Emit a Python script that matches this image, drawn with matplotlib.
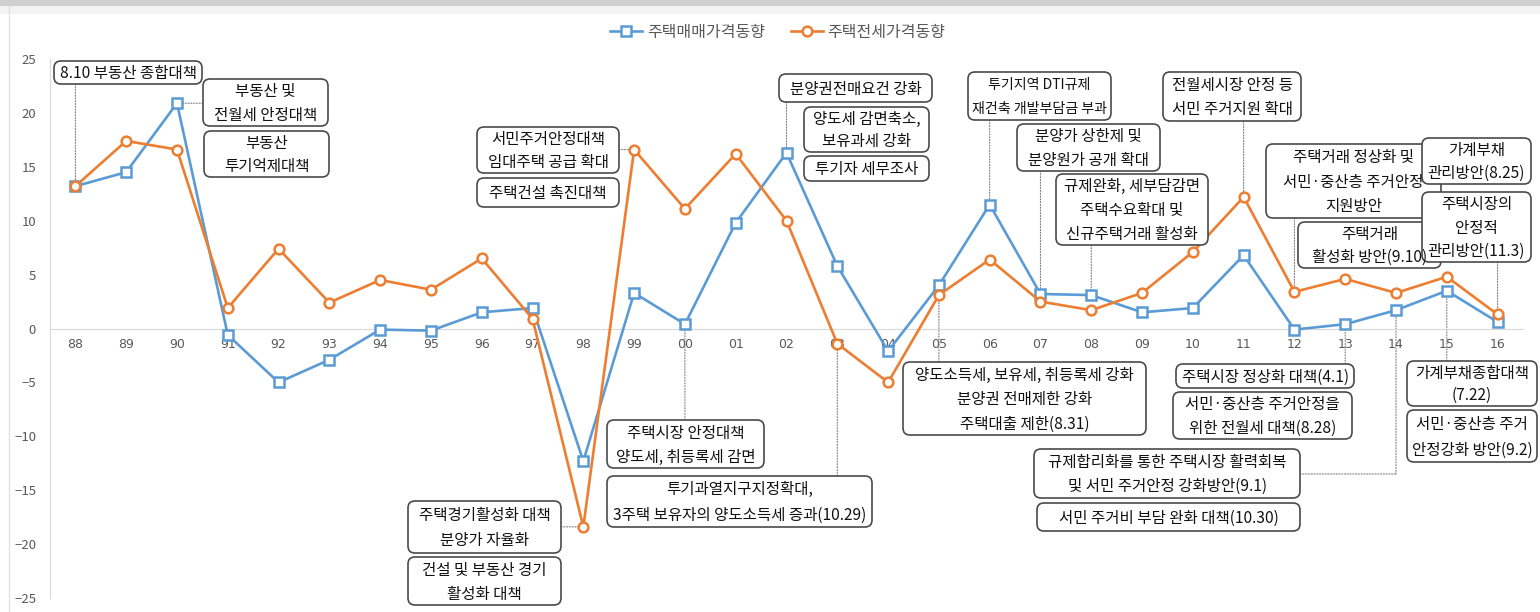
import matplotlib.pyplot as plt
import matplotlib.transforms as mtransforms
from matplotlib.patches import FancyBboxPatch, Rectangle
from matplotlib.lines import Line2D

plt.rcParams['font.family'] = ['Noto Sans CJK KR', 'DejaVu Sans']

# 연도 / 주택가격 동향 (전년 대비 %)
years = ['88', '89', '90', '91', '92', '93', '94', '95', '96', '97', '98', '99',
         '00', '01', '02', '03', '04', '05', '06', '07', '08', '09', '10', '11',
         '12', '13', '14', '15', '16']
sale = [13.2, 14.5, 20.9, -0.6, -5.0, -2.9, -0.1, -0.2, 1.5, 1.9, -12.3, 3.3,
        0.4, 9.8, 16.3, 5.8, -2.1, 4.0, 11.5, 3.2, 3.1, 1.5, 1.9, 6.8,
        -0.1, 0.4, 1.7, 3.5, 0.6]
jeonse = [13.2, 17.4, 16.6, 1.9, 7.4, 2.4, 4.5, 3.6, 6.5, 0.9, -18.4, 16.6,
          11.1, 16.2, 10.0, -1.4, -5.0, 3.1, 6.4, 2.5, 1.7, 3.3, 7.1, 12.2,
          3.4, 4.6, 3.3, 4.8, 1.3]
series_names = ['주택매매가격동향', '주택전세가격동향']

# 정책 상자: 문구, 왼쪽, 위, 오른쪽, 아래 (픽셀)
boxes = [
    ('8.10 부동산 종합대책', 54, 61, 202, 84),
    ('부동산 및\n전월세 안정대책', 203, 79, 328, 126),
    ('부동산\n투기억제대책', 204, 131, 329, 177),
    ('서민주거안정대책\n임대주택 공급 확대', 477, 127, 619, 173),
    ('주택건설 촉진대책', 477, 178, 619, 207),
    ('분양권전매요건 강화', 779, 74, 932, 102),
    ('양도세 감면축소,\n보유과세 강화', 804, 107, 929, 152),
    ('투기자 세무조사', 804, 156, 929, 181),
    ('투기지역 DTI규제\n재건축 개발부담금 부과', 968, 72, 1111, 120),
    ('분양가 상한제 및\n분양원가 공개 확대', 1017, 124, 1160, 171),
    ('규제완화, 세부담감면\n주택수요확대 및\n신규주택거래 활성화', 1056, 174, 1208, 245),
    ('전월세시장 안정 등\n서민 주거지원 확대', 1163, 72, 1301, 121),
    ('주택거래 정상화 및\n서민·중산층 주거안정\n지원방안', 1266, 144, 1441, 218),
    ('주택거래\n활성화 방안(9.10)', 1298, 222, 1441, 268),
    ('가계부채\n관리방안(8.25)', 1422, 138, 1531, 184),
    ('주택시장의\n안정적\n관리방안(11.3)', 1422, 192, 1531, 262),
    ('주택경기활성화 대책\n분양가 자율화', 408, 501, 561, 553),
    ('건설 및 부동산 경기\n활성화 대책', 408, 557, 561, 605),
    ('주택시장 안정대책\n양도세, 취등록세 감면', 607, 420, 764, 468),
    ('투기과열지구지정확대,\n3주택 보유자의 양도소득세 증과(10.29)', 607, 476, 872, 527),
    ('양도소득세, 보유세, 취등록세 강화\n분양권 전매제한 강화\n주택대출 제한(8.31)', 903, 362, 1146, 435),
    ('주택시장 정상화 대책(4.1)', 1176, 364, 1354, 388),
    ('서민·중산층 주거안정을\n위한 전월세 대책(8.28)', 1173, 392, 1352, 439),
    ('규제합리화를 통한 주택시장 활력회복\n및 서민 주거안정 강화방안(9.1)', 1034, 449, 1300, 498),
    ('서민 주거비 부담 완화 대책(10.30)', 1037, 503, 1300, 531),
    ('가계부채종합대책\n(7.22)', 1407, 361, 1537, 406),
    ('서민·중산층 주거\n안정강화 방안(9.2)', 1407, 410, 1537, 462),
]

# 세로 지시선: 연도 인덱스, 계열, 상자 끝 y(픽셀)
vleaders = [(0, 'sale', 84), (14, 'sale', 102), (18, 'sale', 120), (19, 'sale', 171),
            (20, 'sale', 245), (23, 'jeonse', 121), (24, 'jeonse', 218),
            (28, 'jeonse', 262), (12, 'sale', 420), (15, 'jeonse', 476),
            (17, 'sale', 362), (25, 'sale', 364), (27, 'sale', 361)]
# 가로 지시선: 연도 인덱스, 계열, 상자 끝 x(픽셀)
hleaders = [(2, 'sale', 203), (11, 'jeonse', 619), (10, 'jeonse', 561)]

W, H = 1540, 612
blue = '#5B9BD5'
orange = '#ED7D31'
vals = {'sale': sale, 'jeonse': jeonse}

fig = plt.figure(figsize=(W / 100, H / 100), dpi=100)
px = mtransforms.Affine2D().scale(1 / W, -1 / H).translate(0, 1) + fig.transFigure

ax = fig.add_axes([50 / W, (H - 598) / H, (1523 - 50) / W, (598 - 59) / H])
x = list(range(len(years)))

# 지시선 (점선)
lead = dict(arrowstyle='-', linestyle=(0, (1, 1.5)), color='#7f7f7f', lw=0.8,
            shrinkA=0, shrinkB=0)
for i, s, yb in vleaders:
    ax.annotate('', xy=(i, vals[s][i]), xycoords='data',
                xytext=(i, yb), textcoords=mtransforms.blended_transform_factory(ax.transData, px),
                arrowprops=lead, zorder=1)
for i, s, xb in hleaders:
    ax.annotate('', xy=(i, vals[s][i]), xycoords='data',
                xytext=(xb, vals[s][i]), textcoords=mtransforms.blended_transform_factory(px, ax.transData),
                arrowprops=lead, zorder=1)
# 14년 -> 규제합리화 상자 (꺾인 선)
ax.annotate('', xy=(26, sale[26]), xycoords='data',
            xytext=(26, 474), textcoords=mtransforms.blended_transform_factory(ax.transData, px),
            arrowprops=lead, zorder=1)
ax.annotate('', xy=(26, 474), xycoords=mtransforms.blended_transform_factory(ax.transData, px),
            xytext=(1300, 474), textcoords=px, arrowprops=lead, zorder=1)

l1, = ax.plot(x, sale, color=blue, lw=1.9, marker='s', ms=6.5, mfc='white',
              mec=blue, mew=1.8, zorder=3, clip_on=False)
l2, = ax.plot(x, jeonse, color=orange, lw=1.9, marker='o', ms=7, mfc='white',
              mec=orange, mew=1.8, zorder=3, clip_on=False)

ax.set_xlim(-0.5, len(years) - 0.5)
ax.set_ylim(-25, 25)
ax.set_yticks(range(-25, 26, 5))
ax.set_xticks(x)
ax.set_xticklabels(years)
ax.spines['bottom'].set_position(('data', 0))
ax.spines['bottom'].set_color('#d9d9d9')
ax.spines['left'].set_color('#d9d9d9')
ax.spines['top'].set_visible(False)
ax.spines['right'].set_visible(False)
ax.tick_params(axis='x', length=0, pad=7, labelsize=9, labelcolor='#595959')
ax.tick_params(axis='y', length=0, pad=10, labelsize=9.5, labelcolor='#595959')
for lab in ax.get_xticklabels():
    lab.set_family(['DejaVu Sans'])
ax.patch.set_alpha(0)

# 상자 (줄마다 따로 배치, 넘치면 글자 크기 줄임)
renderer = fig.canvas.get_renderer()
base = 11.2
for txt, x0, y0, x1, y1 in boxes:
    p = FancyBboxPatch((x0, y0), x1 - x0, y1 - y0,
                       boxstyle='round,pad=0,rounding_size=7',
                       transform=px, fc='white', ec='#4a4a4a', lw=1.2, zorder=5)
    fig.add_artist(p)
    lines = txt.split('\n')
    n = len(lines)
    arts = []
    for k, ln in enumerate(lines):
        yc = y0 + (k + 0.5) * (y1 - y0) / n + 1
        t = fig.text((x0 + x1) / 2, yc, ln, transform=px, ha='center', va='center',
                     fontsize=base, color='#111111', zorder=6)
        arts.append(t)
    wmax = max(t.get_window_extent(renderer).width for t in arts)
    room = (x1 - x0) - 8
    if wmax > room:
        for t in arts:
            t.set_fontsize(base * room / wmax)

# 범례
fig.legend([l1, l2], series_names, loc='center', bbox_to_anchor=(778 / W, 1 - 32 / H),
           ncol=2, frameon=False, fontsize=11.5, handlelength=2.0, handletextpad=0.3,
           columnspacing=1.6, labelcolor='#595959')

# 화면 테두리 흔적
fig.add_artist(Rectangle((0, 0), W, 6, transform=px, fc='#cfcfcf', ec='none'))
fig.add_artist(Rectangle((0, 6), W, 8, transform=px, fc='#f3f3f3', ec='none'))
fig.add_artist(Line2D([9, 9], [6, H], transform=px, color='#e3e3e3', lw=1))

fig.savefig('out.png', dpi=100)
